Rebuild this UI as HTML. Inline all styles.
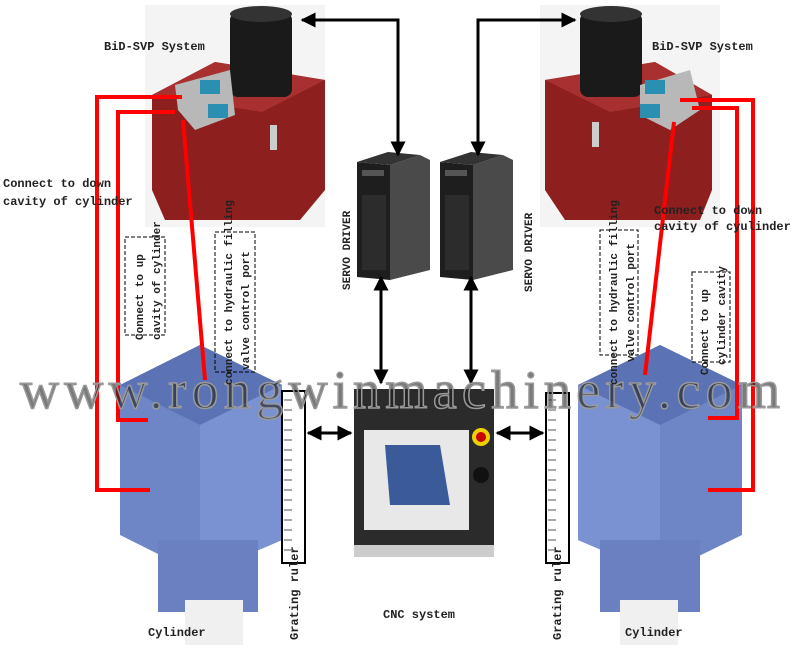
<!DOCTYPE html>
<html><head><meta charset="utf-8"><style>
html,body{margin:0;padding:0;background:#fff;}
svg{display:block;}
text{font-family:"Liberation Mono",monospace;font-weight:bold;fill:#222;}
</style></head><body>
<svg width="800" height="670" viewBox="0 0 800 670" xmlns="http://www.w3.org/2000/svg">
<defs>
<marker id="ah" viewBox="0 0 10 10" refX="9" refY="5" markerWidth="5" markerHeight="5" orient="auto-start-reverse"><path d="M0,0 L10,5 L0,10 z" fill="#000"/></marker>
</defs>
<!-- Left hydraulic unit -->
<rect x="145" y="5" width="180" height="222" fill="#f4f4f4"/>
<polygon points="152,95 215,62 325,80 325,190 300,220 165,220 152,190" fill="#8e1f1f"/>
<polygon points="152,95 215,62 325,80 262,112" fill="#a83030"/>
<rect x="230" y="12" width="62" height="85" rx="8" fill="#1a1a1a"/>
<ellipse cx="261" cy="14" rx="31" ry="8" fill="#333"/>
<polygon points="175,85 230,70 235,115 195,130 178,110" fill="#b8b8b8"/>
<rect x="200" y="80" width="20" height="14" fill="#2a8fb0"/>
<rect x="208" y="104" width="20" height="14" fill="#2a8fb0"/>
<rect x="270" y="125" width="7" height="25" fill="#ccc"/>
<!-- Right hydraulic unit -->
<rect x="540" y="5" width="180" height="222" fill="#f4f4f4"/>
<polygon points="545,80 655,62 712,95 712,190 700,220 565,220 545,190" fill="#8e1f1f"/>
<polygon points="545,80 655,62 712,95 610,112" fill="#a83030"/>
<rect x="580" y="12" width="62" height="85" rx="8" fill="#1a1a1a"/>
<ellipse cx="611" cy="14" rx="31" ry="8" fill="#333"/>
<polygon points="640,85 690,70 700,110 670,130 640,115" fill="#b8b8b8"/>
<rect x="645" y="80" width="20" height="14" fill="#2a8fb0"/>
<rect x="640" y="104" width="20" height="14" fill="#2a8fb0"/>
<rect x="592" y="122" width="7" height="25" fill="#ccc"/>
<!-- Servo drivers -->
<g>
<polygon points="390,165 420,155 430,160 430,270 390,280" fill="#4a4a4a"/>
<polygon points="357,162 390,165 390,280 357,277" fill="#1e1e1e"/>
<polygon points="357,162 388,152 420,155 390,165" fill="#333"/>
<rect x="362" y="170" width="22" height="6" fill="#555"/>
<rect x="362" y="195" width="24" height="75" fill="#2c2c2c"/>
</g>
<g>
<polygon points="473,165 503,155 513,160 513,270 473,280" fill="#4a4a4a"/>
<polygon points="440,162 473,165 473,280 440,277" fill="#1e1e1e"/>
<polygon points="440,162 471,152 503,155 473,165" fill="#333"/>
<rect x="445" y="170" width="22" height="6" fill="#555"/>
<rect x="445" y="195" width="24" height="75" fill="#2c2c2c"/>
</g>
<text transform="translate(350,290) rotate(-90)" font-size="11">SERVO DRIVER</text>
<text transform="translate(532,292) rotate(-90)" font-size="11">SERVO DRIVER</text>
<!-- arrows top -->
<polyline points="302,20 398,20 398,155" fill="none" stroke="#000" stroke-width="3" marker-start="url(#ah)" marker-end="url(#ah)"/>
<polyline points="575,20 478,20 478,155" fill="none" stroke="#000" stroke-width="3" marker-start="url(#ah)" marker-end="url(#ah)"/>
<line x1="381" y1="277" x2="381" y2="383" stroke="#000" stroke-width="3" marker-start="url(#ah)" marker-end="url(#ah)"/>
<line x1="471" y1="277" x2="471" y2="383" stroke="#000" stroke-width="3" marker-start="url(#ah)" marker-end="url(#ah)"/>
<!-- Cylinders -->
<g>
<polygon points="120,385 200,345 282,385 282,540 200,575 120,535" fill="#6f86c6"/>
<polygon points="120,385 200,345 282,385 200,425" fill="#5b73b5"/>
<polygon points="200,425 282,385 282,540 200,575" fill="#7a92d2"/>
<rect x="158" y="540" width="100" height="72" fill="#6a80c0"/>
<rect x="185" y="600" width="58" height="45" fill="#f0f0f0"/>
</g>
<g>
<polygon points="578,385 660,345 742,385 742,535 660,575 578,540" fill="#6f86c6"/>
<polygon points="578,385 660,345 742,385 660,425" fill="#5b73b5"/>
<polygon points="578,385 660,425 660,575 578,540" fill="#7a92d2"/>
<rect x="600" y="540" width="100" height="72" fill="#6a80c0"/>
<rect x="620" y="600" width="58" height="45" fill="#f0f0f0"/>
</g>
<!-- CNC -->
<rect x="354" y="389" width="140" height="167" fill="#2b2b2b"/>
<rect x="354" y="545" width="140" height="12" fill="#ccc"/>
<rect x="364" y="430" width="105" height="100" fill="#e8e8e8"/>
<polygon points="385,445 440,445 450,505 390,505" fill="#3a5a9a"/>
<circle cx="481" cy="437" r="9" fill="#f0d000"/><circle cx="481" cy="437" r="5" fill="#c00"/>
<circle cx="481" cy="475" r="8" fill="#111"/>
<!-- rulers -->
<rect x="282" y="391" width="23" height="172" fill="#fff" stroke="#000" stroke-width="2"/>
<rect x="546" y="393" width="23" height="170" fill="#fff" stroke="#000" stroke-width="2"/>
<g stroke="#555" stroke-width="1">
<path d="M284 400h8M284 410h8M284 420h8M284 430h8M284 440h8M284 450h8M284 460h8M284 470h8M284 480h8M284 490h8M284 500h8M284 510h8M284 520h8M284 530h8M284 540h8M284 550h8"/>
<path d="M548 400h8M548 410h8M548 420h8M548 430h8M548 440h8M548 450h8M548 460h8M548 470h8M548 480h8M548 490h8M548 500h8M548 510h8M548 520h8M548 530h8M548 540h8M548 550h8"/>
</g>
<line x1="308" y1="433" x2="351" y2="433" stroke="#000" stroke-width="3" marker-start="url(#ah)" marker-end="url(#ah)"/>
<line x1="497" y1="433" x2="543" y2="433" stroke="#000" stroke-width="3" marker-start="url(#ah)" marker-end="url(#ah)"/>
<!-- red lines -->
<g fill="none" stroke="#f00" stroke-width="4">
<polyline points="182,97 97,97 97,490 150,490"/>
<polyline points="175,112 118,112 118,420 148,420"/>
<line x1="183" y1="120" x2="205" y2="380"/>
<polyline points="680,100 753,100 753,490 708,490"/>
<polyline points="692,108 737,108 737,418 708,418"/>
<line x1="674" y1="122" x2="645" y2="375"/>
</g>
<!-- watermark -->
<text x="20" y="408" font-size="54" fill="#e4e4e4" fill-opacity="0.6" stroke="#999" stroke-width="1.5" textLength="760" style="font-family:'Liberation Serif',serif;font-weight:normal">www.rongwinmachinery.com</text>
<!-- labels -->
<text x="104" y="50" font-size="12">BiD-SVP System</text>
<text x="652" y="50" font-size="12">BiD-SVP System</text>
<text x="3" y="187" font-size="12">Connect to down</text>
<text x="3" y="205" font-size="12">cavity of cylinder</text>
<text x="654" y="214" font-size="12">Connect to down</text>
<text x="654" y="230" font-size="12">cavity of cyulinder</text>
<rect x="125" y="237" width="40" height="98" fill="none" stroke="#000" stroke-dasharray="4,2"/>
<text transform="translate(143,340) rotate(-90)" font-size="11">Connect to up</text>
<text transform="translate(160,340) rotate(-90)" font-size="11">cavity of cylinder</text>
<rect x="215" y="232" width="40" height="140" fill="none" stroke="#000" stroke-dasharray="4,2"/>
<text transform="translate(232,385) rotate(-90)" font-size="11">connect to hydraulic filling</text>
<text transform="translate(249,370) rotate(-90)" font-size="11">valve control port</text>
<rect x="600" y="230" width="38" height="125" fill="none" stroke="#000" stroke-dasharray="4,2"/>
<text transform="translate(617,385) rotate(-90)" font-size="11">connect to hydraulic filling</text>
<text transform="translate(634,362) rotate(-90)" font-size="11">valve control port</text>
<rect x="692" y="272" width="38" height="90" fill="none" stroke="#000" stroke-dasharray="4,2"/>
<text transform="translate(708,375) rotate(-90)" font-size="11">Connect to up</text>
<text transform="translate(725,365) rotate(-90)" font-size="11">cylinder cavity</text>
<text x="383" y="618" font-size="12">CNC system</text>
<text x="148" y="636" font-size="12">Cylinder</text>
<text x="625" y="636" font-size="12">Cylinder</text>
<text transform="translate(298,640) rotate(-90)" font-size="12">Grating ruler</text>
<text transform="translate(561,640) rotate(-90)" font-size="12">Grating ruler</text>
</svg>
</body></html>
